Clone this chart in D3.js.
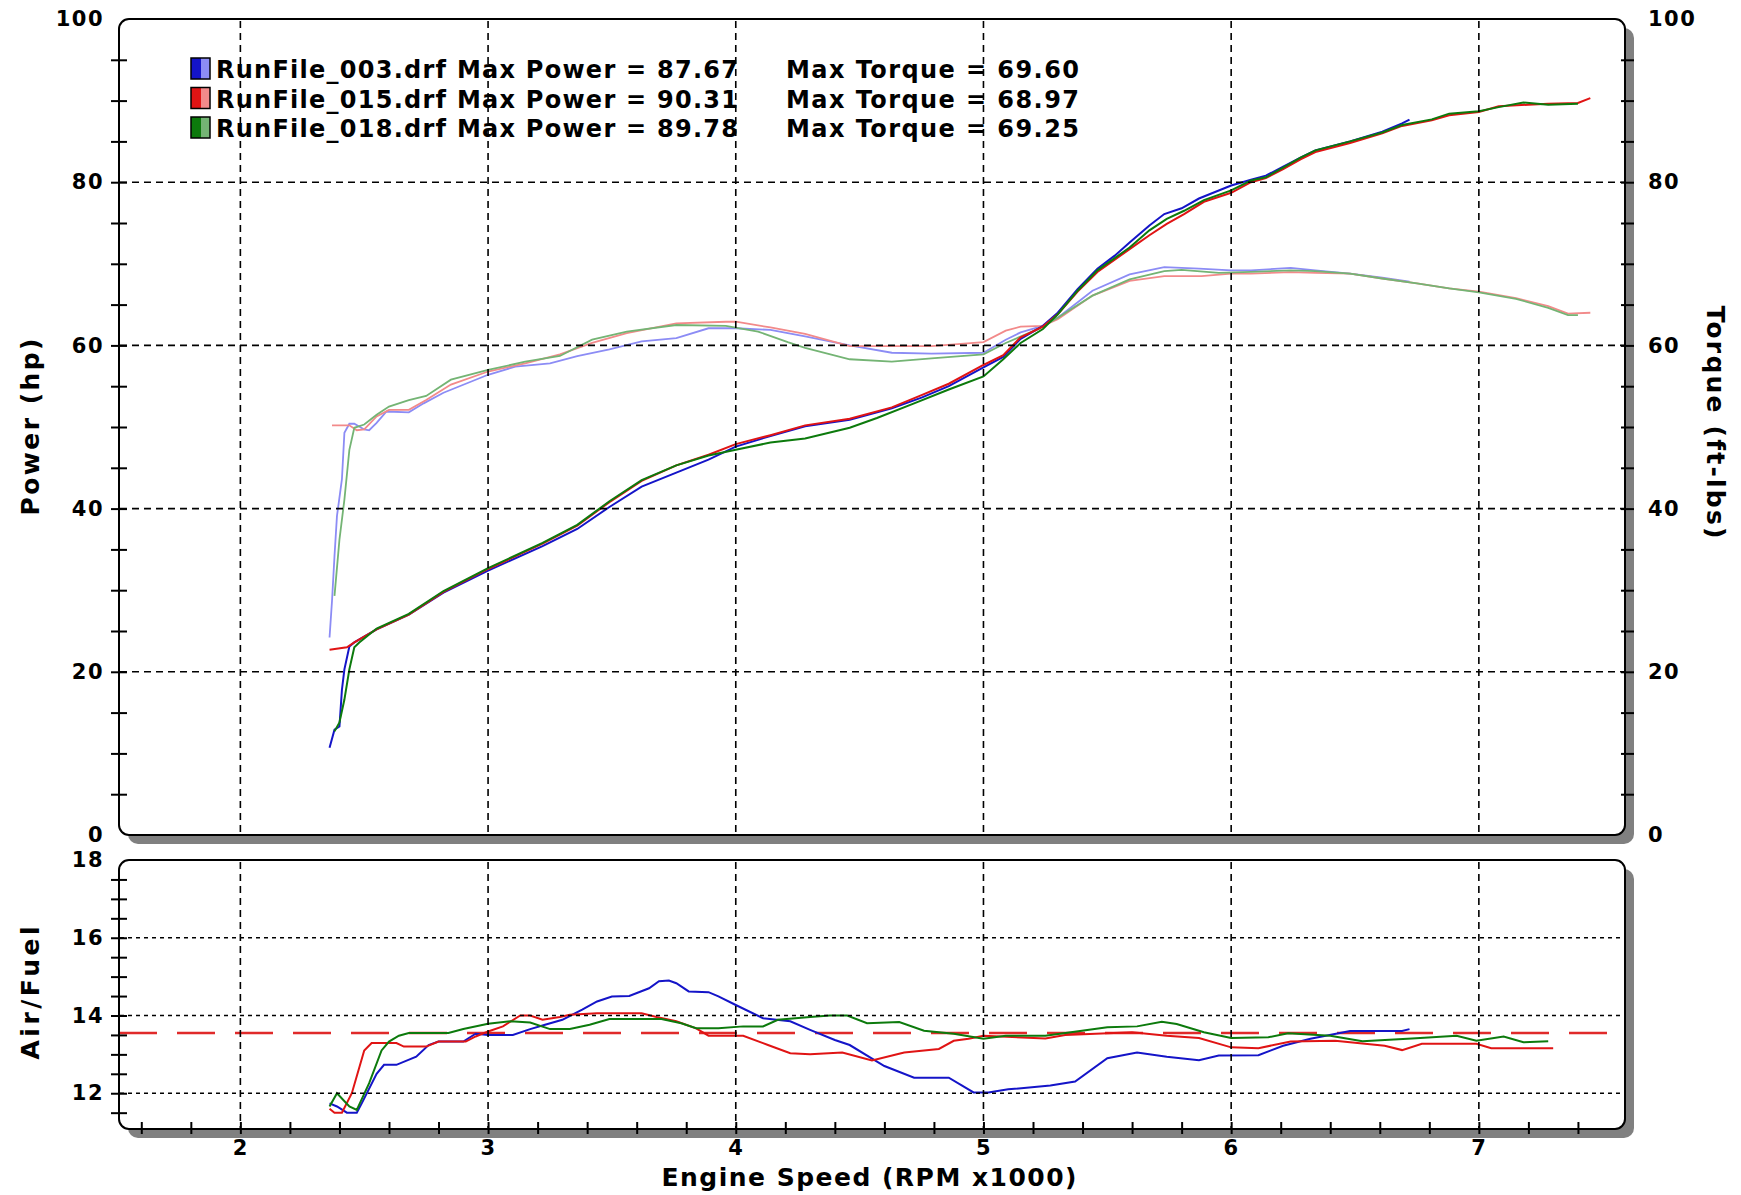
<!DOCTYPE html>
<html>
<head>
<meta charset="utf-8">
<script src="https://cdn.jsdelivr.net/npm/d3@7"></script>
<style>
  body { margin: 0; background: white; }
  svg { display: block; }
</style>
</head>
<body>
<div id="main_content"></div>
<script>
var width = 1741, height = 1195;

// ---- data (rpm x1000, value) ----
var runNames = ['RunFile_003.drf', 'RunFile_015.drf', 'RunFile_018.drf'];
var maxPower = ['87.67', '90.31', '89.78'];
var maxTorque = ['69.60', '68.97', '69.25'];

var power003 = [[2.36,10.7],[2.38,12.9],[2.40,13.3],[2.41,17.8],[2.42,20.3],[2.44,23.1],[2.46,23.6],[2.55,25.2],[2.68,27.0],[2.82,29.7],[3.0,32.4],[3.22,35.4],[3.36,37.5],[3.49,40.2],[3.62,42.7],[3.76,44.4],[3.89,46.0],[4.0,47.6],[4.14,48.9],[4.28,50.1],[4.46,50.9],[4.63,52.3],[4.75,53.6],[4.86,55.0],[5.0,57.3],[5.08,58.6],[5.15,60.8],[5.24,62.4],[5.30,64.0],[5.38,66.9],[5.46,69.4],[5.53,71.0],[5.59,72.6],[5.67,74.7],[5.73,76.1],[5.80,76.8],[5.87,78.0],[6.0,79.6],[6.08,80.3],[6.14,80.8],[6.21,81.9],[6.28,83.0],[6.34,83.9],[6.48,85.0],[6.61,86.2],[6.69,87.2],[6.72,87.67]];
var power015 = [[2.36,22.7],[2.43,23.0],[2.46,23.6],[2.55,25.2],[2.68,27.0],[2.82,29.8],[3.0,32.6],[3.22,35.7],[3.36,37.9],[3.49,40.8],[3.62,43.4],[3.76,45.3],[3.89,46.6],[4.0,47.9],[4.14,49.0],[4.28,50.2],[4.46,51.0],[4.63,52.4],[4.75,53.9],[4.86,55.3],[5.0,57.6],[5.08,58.8],[5.15,61.0],[5.24,62.3],[5.30,63.8],[5.38,66.6],[5.46,69.0],[5.53,70.5],[5.59,71.8],[5.67,73.5],[5.74,74.9],[5.81,76.1],[5.89,77.6],[6.0,78.7],[6.08,80.0],[6.14,80.5],[6.21,81.6],[6.28,82.8],[6.34,83.7],[6.48,84.8],[6.61,86.0],[6.69,86.9],[6.81,87.6],[6.88,88.2],[7.0,88.6],[7.08,89.3],[7.2,89.5],[7.28,89.6],[7.40,89.7],[7.45,90.31]];
var power018 = [[2.38,12.7],[2.40,13.8],[2.42,16.6],[2.44,20.3],[2.46,23.0],[2.48,23.6],[2.55,25.3],[2.68,27.1],[2.82,29.9],[3.0,32.7],[3.22,35.8],[3.36,38.0],[3.49,40.9],[3.62,43.5],[3.76,45.3],[3.89,46.5],[4.0,47.2],[4.14,48.1],[4.28,48.6],[4.46,49.9],[4.57,51.1],[4.72,52.9],[4.86,54.6],[5.0,56.2],[5.08,58.3],[5.15,60.3],[5.24,62.0],[5.30,63.8],[5.38,66.7],[5.46,69.2],[5.53,70.7],[5.59,72.0],[5.67,74.1],[5.74,75.5],[5.81,76.5],[5.89,77.8],[6.0,79.0],[6.08,80.2],[6.14,80.6],[6.21,81.8],[6.28,83.0],[6.34,83.9],[6.48,85.0],[6.61,86.1],[6.69,87.0],[6.81,87.7],[6.88,88.4],[7.0,88.7],[7.08,89.2],[7.18,89.78],[7.28,89.5],[7.40,89.6]];

var torque003 = [[2.36,24.2],[2.37,28.7],[2.38,34.2],[2.39,39.1],[2.41,43.6],[2.42,49.3],[2.44,50.4],[2.46,50.4],[2.50,49.7],[2.52,49.6],[2.55,50.5],[2.59,51.9],[2.68,51.8],[2.74,52.9],[2.82,54.2],[3.0,56.4],[3.11,57.4],[3.25,57.8],[3.36,58.7],[3.49,59.5],[3.62,60.5],[3.76,60.9],[3.89,62.1],[4.0,62.1],[4.14,61.9],[4.28,61.1],[4.46,60.0],[4.63,59.1],[4.79,59.0],[5.0,59.1],[5.09,60.7],[5.15,61.6],[5.24,62.4],[5.30,63.4],[5.44,66.7],[5.59,68.7],[5.73,69.6],[5.87,69.4],[6.0,69.2],[6.08,69.2],[6.24,69.5],[6.34,69.2],[6.48,68.8],[6.61,68.3],[6.72,67.8]];
var torque015 = [[2.37,50.2],[2.44,50.2],[2.47,49.6],[2.50,49.7],[2.55,51.3],[2.60,52.1],[2.68,52.1],[2.75,53.3],[2.85,55.2],[3.0,56.8],[3.15,57.8],[3.29,58.9],[3.42,60.3],[3.56,61.5],[3.76,62.7],[3.96,62.9],[4.0,62.9],[4.14,62.2],[4.28,61.4],[4.46,59.9],[4.63,59.9],[4.79,59.9],[5.0,60.4],[5.09,61.8],[5.15,62.3],[5.24,62.4],[5.30,63.2],[5.44,66.1],[5.59,67.9],[5.73,68.5],[5.88,68.5],[6.0,68.8],[6.08,68.8],[6.24,68.97],[6.34,68.9],[6.48,68.8],[6.61,68.2],[6.75,67.6],[6.88,67.0],[7.0,66.6],[7.15,65.8],[7.28,64.8],[7.36,63.9],[7.45,64.0]];
var torque018 = [[2.38,29.3],[2.40,36.2],[2.42,41.1],[2.44,47.2],[2.46,49.9],[2.50,50.3],[2.55,51.5],[2.60,52.5],[2.68,53.3],[2.75,53.8],[2.85,55.8],[3.0,57.0],[3.15,58.0],[3.29,58.7],[3.42,60.7],[3.56,61.7],[3.76,62.5],[3.96,62.4],[4.09,61.7],[4.21,60.4],[4.28,59.7],[4.46,58.3],[4.63,58.0],[4.79,58.4],[5.0,58.9],[5.09,60.3],[5.22,62.0],[5.30,63.4],[5.44,66.1],[5.59,68.1],[5.73,69.1],[5.80,69.25],[5.95,68.9],[6.08,69.0],[6.24,69.2],[6.34,69.1],[6.48,68.8],[6.61,68.2],[6.75,67.6],[6.88,67.0],[7.0,66.5],[7.15,65.7],[7.28,64.6],[7.36,63.7],[7.40,63.7]];

var afr003 = [[2.36,11.74],[2.39,11.66],[2.43,11.5],[2.47,11.5],[2.49,11.74],[2.55,12.5],[2.58,12.73],[2.63,12.73],[2.71,12.94],[2.76,13.24],[2.80,13.33],[2.90,13.33],[2.95,13.53],[3.0,13.5],[3.10,13.5],[3.17,13.65],[3.23,13.76],[3.30,13.89],[3.38,14.15],[3.44,14.36],[3.50,14.49],[3.57,14.5],[3.65,14.7],[3.69,14.88],[3.73,14.9],[3.76,14.83],[3.81,14.62],[3.89,14.6],[3.93,14.49],[4.0,14.27],[4.11,13.93],[4.22,13.85],[4.30,13.63],[4.40,13.37],[4.46,13.24],[4.60,12.7],[4.72,12.4],[4.86,12.4],[4.96,12.02],[5.02,12.02],[5.10,12.1],[5.27,12.2],[5.37,12.3],[5.50,12.9],[5.62,13.05],[5.74,12.94],[5.87,12.85],[5.95,12.97],[6.11,12.98],[6.21,13.22],[6.32,13.4],[6.48,13.6],[6.69,13.6],[6.72,13.65]];
var afr015 = [[2.36,11.6],[2.38,11.5],[2.41,11.5],[2.45,12.0],[2.50,13.1],[2.53,13.29],[2.63,13.29],[2.66,13.2],[2.75,13.2],[2.80,13.33],[2.91,13.33],[2.95,13.46],[3.0,13.59],[3.06,13.72],[3.13,14.0],[3.17,14.0],[3.22,13.89],[3.29,13.96],[3.33,14.02],[3.44,14.06],[3.62,14.06],[3.68,13.96],[3.76,13.85],[3.84,13.67],[3.89,13.48],[4.03,13.48],[4.13,13.24],[4.22,13.03],[4.30,13.0],[4.43,13.05],[4.55,12.84],[4.68,13.05],[4.82,13.14],[4.88,13.35],[4.94,13.4],[5.0,13.48],[5.25,13.41],[5.33,13.5],[5.60,13.57],[5.74,13.48],[5.87,13.42],[6.0,13.18],[6.11,13.16],[6.24,13.33],[6.42,13.35],[6.62,13.22],[6.69,13.11],[6.77,13.27],[6.99,13.27],[7.05,13.16],[7.18,13.16],[7.30,13.16]];
var afr018 = [[2.36,11.66],[2.39,12.0],[2.44,11.66],[2.47,11.57],[2.52,12.26],[2.57,13.1],[2.60,13.33],[2.64,13.48],[2.68,13.55],[2.84,13.55],[2.90,13.65],[3.0,13.79],[3.09,13.85],[3.17,13.82],[3.25,13.65],[3.33,13.65],[3.41,13.76],[3.49,13.91],[3.57,13.91],[3.70,13.91],[3.78,13.8],[3.84,13.67],[3.93,13.67],[4.03,13.72],[4.11,13.72],[4.17,13.89],[4.30,13.96],[4.38,14.0],[4.45,14.0],[4.53,13.8],[4.66,13.83],[4.76,13.61],[4.88,13.53],[5.0,13.4],[5.09,13.48],[5.25,13.48],[5.50,13.7],[5.62,13.72],[5.72,13.84],[5.78,13.78],[5.89,13.57],[6.0,13.42],[6.15,13.44],[6.23,13.54],[6.40,13.48],[6.53,13.34],[6.73,13.41],[6.91,13.48],[6.99,13.35],[7.10,13.46],[7.18,13.31],[7.28,13.34]];

var afrTarget = 13.55;
var xMajor = [2, 3, 4, 5, 6, 7];
var powerTicks = [0, 20, 40, 60, 80, 100];
var afrTicks = [12, 14, 16, 18];

var darkColors = ['#1414c8', '#e01414', '#0c7a0c'];
var lightColors = ['#8c8cf5', '#f28a8a', '#74b474'];

// ---- scales ----
var left = 119, right = 1625;
var x = d3.scaleLinear().domain([1.51, 7.59]).range([left, right]);
var yP = d3.scaleLinear().domain([0, 100]).range([835, 19]);
var yA = d3.scaleLinear().domain([11.08, 18]).range([1129, 860]);
var fmt = d3.format('d');

var svg = d3.select('#main_content').append('svg')
  .attr('width', width)
  .attr('height', height)
  .style('background', 'white')
  .style('font-family', "'DejaVu Sans', Verdana, sans-serif");

// panels with grey drop shadow
function panel(top, bottom, id) {
  svg.append('rect')
    .attr('x', left + 9).attr('y', top + 9)
    .attr('width', right - left).attr('height', bottom - top)
    .attr('rx', 10).attr('fill', '#808080');
  svg.append('rect')
    .attr('x', left).attr('y', top)
    .attr('width', right - left).attr('height', bottom - top)
    .attr('rx', 10).attr('fill', 'white')
    .attr('stroke', 'black').attr('stroke-width', 2);
  svg.append('clipPath').attr('id', id)
    .append('rect')
    .attr('x', left + 1).attr('y', top + 1)
    .attr('width', right - left - 2).attr('height', bottom - top - 2);
}
panel(yP(100), yP(0), 'clipP');
panel(yA(18), yA(11.08), 'clipA');

// legend (drawn under the grid like the original)
var legend = svg.append('g');
runNames.forEach(function(name, i) {
  var cy = 69 + i * 29.5;
  legend.append('rect').attr('x', 191).attr('y', cy - 11).attr('width', 10).attr('height', 21)
    .attr('fill', darkColors[i]);
  legend.append('rect').attr('x', 201).attr('y', cy - 11).attr('width', 9).attr('height', 21)
    .attr('fill', lightColors[i]);
  legend.append('rect').attr('x', 191).attr('y', cy - 11).attr('width', 19).attr('height', 21)
    .attr('fill', 'none').attr('stroke', 'black').attr('stroke-width', 1.5);
  legend.append('text')
    .attr('x', 216).attr('y', cy + 9)
    .attr('font-size', 24).attr('font-weight', 'bold')
    .attr('textLength', 522)
    .text(name + ' Max Power = ' + maxPower[i]);
  legend.append('text')
    .attr('x', 786).attr('y', cy + 9)
    .attr('font-size', 24).attr('font-weight', 'bold')
    .attr('textLength', 293)
    .text('Max Torque = ' + maxTorque[i]);
});

// data lines
var line = d3.line()
  .x(function(d) { return x(d[0]); });

var gP = svg.append('g').attr('clip-path', 'url(#clipP)');
[torque003, torque015, torque018].forEach(function(s, i) {
  gP.append('path').datum(s)
    .attr('fill', 'none').attr('stroke', lightColors[i]).attr('stroke-width', 1.8)
    .attr('d', line.y(function(d) { return yP(d[1]); }));
});
[power003, power015, power018].forEach(function(s, i) {
  gP.append('path').datum(s)
    .attr('fill', 'none').attr('stroke', darkColors[i]).attr('stroke-width', 2)
    .attr('d', line.y(function(d) { return yP(d[1]); }));
});

var gA = svg.append('g').attr('clip-path', 'url(#clipA)');
gA.append('line')
  .attr('x1', left).attr('x2', right)
  .attr('y1', yA(afrTarget)).attr('y2', yA(afrTarget))
  .attr('stroke', '#e02a2a').attr('stroke-width', 2.5)
  .attr('stroke-dasharray', '38,20');
[afr003, afr015, afr018].forEach(function(s, i) {
  gA.append('path').datum(s)
    .attr('fill', 'none').attr('stroke', darkColors[i]).attr('stroke-width', 2)
    .attr('d', line.y(function(d) { return yA(d[1]); }));
});

// grid
var grid = svg.append('g').attr('stroke', 'black').attr('stroke-width', 1.6);
xMajor.forEach(function(v) {
  grid.append('line').attr('x1', x(v)).attr('x2', x(v))
    .attr('y1', yP(100) + 2).attr('y2', yP(0) - 1).attr('stroke-dasharray', '7,5');
  grid.append('line').attr('x1', x(v)).attr('x2', x(v))
    .attr('y1', yA(18) + 2).attr('y2', yA(11.08) - 1).attr('stroke-dasharray', '7,5');
});
[20, 40, 60, 80].forEach(function(v) {
  grid.append('line').attr('x1', left + 1).attr('x2', right - 1)
    .attr('y1', yP(v)).attr('y2', yP(v)).attr('stroke-dasharray', '7,5');
});
[12, 14, 16].forEach(function(v) {
  grid.append('line').attr('x1', left + 1).attr('x2', right - 1)
    .attr('y1', yA(v)).attr('y2', yA(v)).attr('stroke-dasharray', '4,4');
});

// axes
function styleAxis(g) {
  g.select('.domain').remove();
  g.selectAll('line').attr('stroke', 'black').attr('stroke-width', 2);
  g.selectAll('text')
    .attr('fill', 'black')
    .style('font-family', "'DejaVu Sans', Verdana, sans-serif")
    .style('font-weight', 'bold')
    .style('font-size', '21px')
    .style('letter-spacing', '1.5px');
}

svg.append('g').attr('transform', 'translate(' + (left + 8) + ',0)')
  .call(d3.axisLeft(yP).tickValues(d3.range(5, 100, 5)).tickSize(16).tickFormat(''))
  .call(styleAxis);
svg.append('g').attr('transform', 'translate(' + left + ',0)')
  .call(d3.axisLeft(yP).tickValues(powerTicks).tickSize(0).tickPadding(15).tickFormat(fmt))
  .call(styleAxis);

svg.append('g').attr('transform', 'translate(' + (right - 4) + ',0)')
  .call(d3.axisRight(yP).tickValues(d3.range(5, 100, 5)).tickSize(13).tickFormat(''))
  .call(styleAxis);
svg.append('g').attr('transform', 'translate(' + right + ',0)')
  .call(d3.axisRight(yP).tickValues(powerTicks).tickSize(0).tickPadding(23).tickFormat(fmt))
  .call(styleAxis);

svg.append('g').attr('transform', 'translate(' + (left + 8) + ',0)')
  .call(d3.axisLeft(yA).tickValues(d3.range(11.5, 18, 0.5)).tickSize(16).tickFormat(''))
  .call(styleAxis);
svg.append('g').attr('transform', 'translate(' + left + ',0)')
  .call(d3.axisLeft(yA).tickValues(afrTicks).tickSize(0).tickPadding(15).tickFormat(fmt))
  .call(styleAxis);

svg.append('g').attr('transform', 'translate(0,' + (yA(11.08) - 7) + ')')
  .call(d3.axisBottom(x).tickValues(d3.range(1.6, 7.5, 0.2)).tickSize(12).tickFormat(''))
  .call(styleAxis);
svg.append('g').attr('transform', 'translate(0,' + yA(11.08) + ')')
  .call(d3.axisBottom(x).tickValues(xMajor).tickSize(0).tickPadding(11).tickFormat(fmt))
  .call(styleAxis);

// axis titles
function title(txt, tx, ty, rot, len) {
  svg.append('text')
    .attr('transform', 'translate(' + tx + ',' + ty + ') rotate(' + rot + ')')
    .attr('text-anchor', 'middle')
    .attr('dy', '0.35em')
    .attr('font-size', 25).attr('font-weight', 'bold')
    .attr('textLength', len)
    .text(txt);
}
title('Power (hp)', 30, 427, -90, 177);
title('Torque (ft-lbs)', 1716, 422, 90, 233);
title('Air/Fuel', 30, 993, -90, 133);
title('Engine Speed (RPM x1000)', 869, 1177, 0, 415);
</script>
</body>
</html>
